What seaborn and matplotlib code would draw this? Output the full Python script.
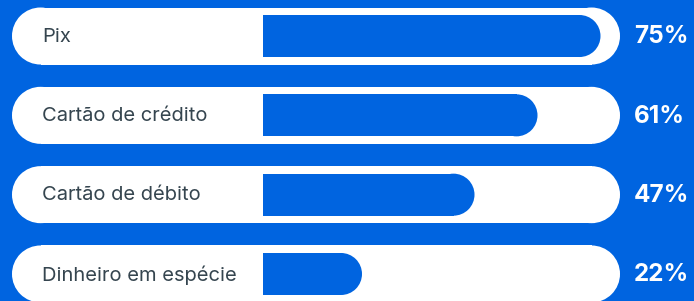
import seaborn as sns
import matplotlib.pyplot as plt
import pandas as pd
from matplotlib.patches import Ellipse, Rectangle

methods = ["Pix", "Cartão de crédito", "Cartão de débito", "Dinheiro em espécie"]
shares = [75, 61, 47, 22]
share_labels = ["75%", "61%", "47%", "22%"]

df = pd.DataFrame({"method": methods, "share": shares})

blue = "#0064E0"
text_dark = "#35454F"

sns.set_style("white")
plt.rcParams["font.family"] = ["Inter", "DejaVu Sans"]

fig = plt.figure(figsize=(6.94, 3.01), dpi=100, facecolor=blue)
ax = fig.add_axes([0, 0, 1, 1])
ax.set_facecolor(blue)

# px per unit: x 4.5 px per %, y 79.3 px per row
px_x = 4.5
px_y = 79.3

# white pills behind (rectangle + semicircle ends)
pill_left = (12 - 263) / px_x
pill_right = (620 - 263) / px_x
pill_h = 57 / px_y
pr = 28.5 / px_x
for i in range(len(methods)):
    ax.add_patch(Rectangle((pill_left + pr, i - pill_h / 2), pill_right - pill_left - 2 * pr, pill_h,
                           facecolor="white", edgecolor="none", zorder=1))
    for cx in (pill_left + pr, pill_right - pr):
        ax.add_patch(Ellipse((cx, i), 2 * pr, pill_h, facecolor="white", edgecolor="none", zorder=1))

sns.barplot(data=df, x="share", y="method", orient="h", color=blue, saturation=1,
            width=42 / px_y, ax=ax, zorder=2)

# round the right end of each bar
r = 21 / px_x
for p in list(ax.patches):
    if type(p) is Rectangle and p.get_zorder() == 2:
        x0, y0, w, h = p.get_x(), p.get_y(), p.get_width(), p.get_height()
        p.set_width(w - r)
        p.set_linewidth(0)
        ax.add_patch(Ellipse((x0 + w - r, y0 + h / 2), 2 * r, h, facecolor=blue, edgecolor="none", zorder=2))

for i, (m, lab) in enumerate(zip(methods, share_labels)):
    ax.text((42 - 263) / px_x, i + 0.01, m, ha="left", va="center", fontsize=14.5, color=text_dark, zorder=4)
    ax.text((634 - 263) / px_x, i + 0.01, lab, ha="left", va="center", fontsize=17.5, fontweight="bold",
            color="white", zorder=4)

ax.set_xlim(-263 / px_x, (694 - 263) / px_x)
ax.set_ylim(3 + 27 / px_y, -36 / px_y)
ax.set_xlabel("")
ax.set_ylabel("")
ax.set_xticks([])
ax.set_yticks([])
sns.despine(ax=ax, left=True, bottom=True)

plt.savefig("out.png", dpi=100, facecolor=blue)
plt.close()
